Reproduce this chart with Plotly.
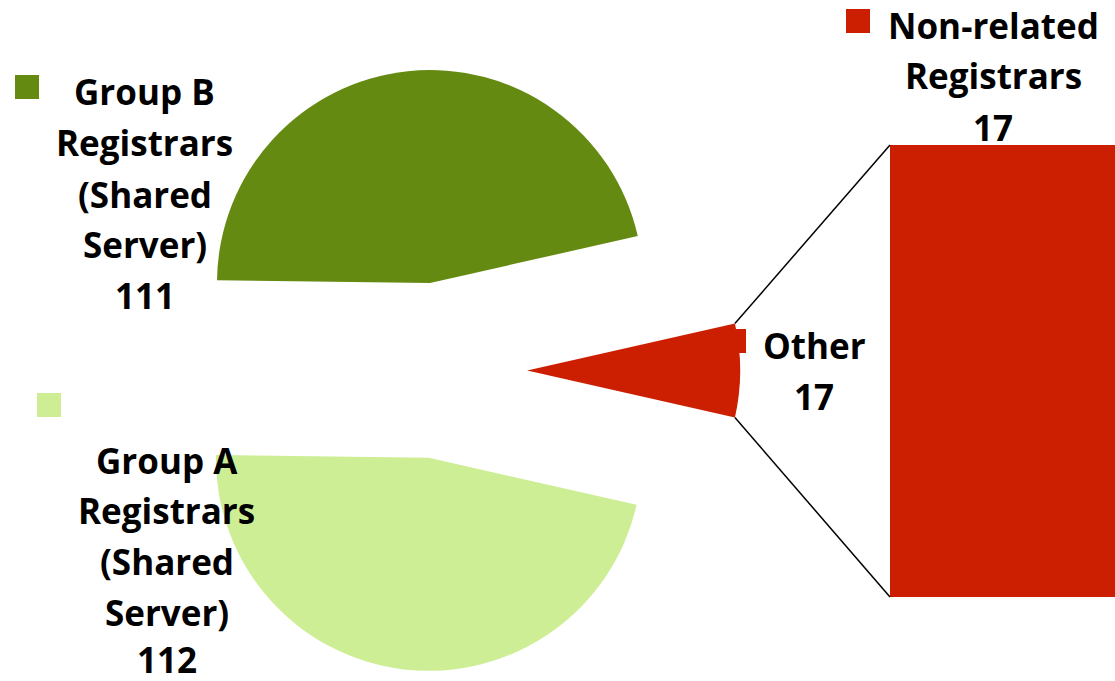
import math
import plotly.graph_objects as go

# --- data ---------------------------------------------------------------
pie_labels = ["Other", "Group A Registrars (Shared Server)", "Group B Registrars (Shared Server)"]
pie_values = [17, 112, 111]
pie_colors = ["#CC1E00", "#CDEE94", "#658A12"]

bar_labels = ["Non-related Registrars"]
bar_values = [17]
bar_colors = ["#CC1E00"]

# --- layout constants (pixels) -----------------------------------------
W, H = 1115, 681
PULL = 0.413
PIE_CX, PIE_CY, PIE_R = 439.2, 370.5, 213.0
BAR_X0, BAR_Y_TOP, BAR_Y_BOT = 890, 145, 597

FONT = "Open Sans"
FSIZE = 35


def px(x):
    return x / W


def py(y):
    return 1 - y / H


total = sum(pie_values)
other_half = 0.5 * pie_values[0] / total * 360.0

box = PIE_R * (2 + 2 * PULL)
pie_domain_x = [px(PIE_CX - box / 2), px(PIE_CX + box / 2)]
pie_domain_y = [py(PIE_CY + box / 2), py(PIE_CY - box / 2)]

fig = go.Figure()

# slices run clockwise from just above 3 o'clock so "Other" is centred on the right
fig.add_trace(go.Pie(
    labels=pie_labels,
    values=pie_values,
    marker=dict(colors=pie_colors, line=dict(width=0)),
    sort=False,
    direction="clockwise",
    rotation=90 - other_half,
    pull=[PULL] * len(pie_values),
    textinfo="none",
    hoverinfo="label+value",
    domain=dict(x=pie_domain_x, y=pie_domain_y),
    showlegend=False,
))

fig.add_trace(go.Bar(
    x=[0],
    y=bar_values,
    width=1,
    marker=dict(color=bar_colors[0], line=dict(width=0)),
    xaxis="x2",
    yaxis="y2",
    name=bar_labels[0],
    showlegend=False,
    hoverinfo="name+y",
))

# connector lines from the "Other" slice to the breakdown bar
ox = PIE_CX + PULL * PIE_R
a = math.radians(other_half)
arc_x = ox + PIE_R * math.cos(a)
arc_dy = PIE_R * math.sin(a)
shapes = [
    dict(type="line", xref="paper", yref="paper",
         x0=px(arc_x), y0=py(PIE_CY - arc_dy), x1=px(BAR_X0), y1=py(BAR_Y_TOP),
         line=dict(color="black", width=1.5)),
    dict(type="line", xref="paper", yref="paper",
         x0=px(arc_x), y0=py(PIE_CY + arc_dy), x1=px(BAR_X0), y1=py(BAR_Y_BOT),
         line=dict(color="black", width=1.5)),
]

# legend keys next to each data label
keys = [
    (15, 75, "#658A12"),
    (37, 393, "#CDEE94"),
    (722, 329, "#CC1E00"),
    (846, 9, bar_colors[0]),
]
for kx, ky, c in keys:
    shapes.append(dict(type="rect", xref="paper", yref="paper",
                       x0=px(kx), x1=px(kx + 24), y0=py(ky + 24), y1=py(ky),
                       fillcolor=c, line=dict(width=0), layer="above"))

# data labels, one annotation per line
labels = [
    (144.5, [92, 143, 194, 244, 295],
     ["Group B", "Registrars", "(Shared", "Server)", str(pie_values[2])]),
    (166.5, [460, 511, 561, 612, 659],
     ["Group A", "Registrars", "(Shared", "Server)", str(pie_values[1])]),
    (814, [346, 396], ["Other", str(pie_values[0])]),
    (993, [26, 76, 127], ["Non-related", "Registrars", str(bar_values[0])]),
]
annotations = []
for cx, ys, lines in labels:
    for y, t in zip(ys, lines):
        annotations.append(dict(
            x=px(cx), y=py(y), xref="paper", yref="paper",
            text="<b>%s</b>" % t, showarrow=False,
            xanchor="center", yanchor="middle",
            font=dict(family=FONT, size=FSIZE, color="black"),
        ))

fig.update_layout(
    width=W, height=H,
    margin=dict(l=0, r=0, t=0, b=0),
    paper_bgcolor="white",
    plot_bgcolor="white",
    xaxis2=dict(domain=[px(BAR_X0), 1], range=[-0.5, 0.5], visible=False,
                fixedrange=True),
    yaxis2=dict(domain=[py(BAR_Y_BOT), py(BAR_Y_TOP)], range=[0, sum(bar_values)],
                visible=False, anchor="x2", fixedrange=True),
    xaxis=dict(visible=False),
    yaxis=dict(visible=False),
    shapes=shapes,
    annotations=annotations,
)

fig.write_html("out.html")
